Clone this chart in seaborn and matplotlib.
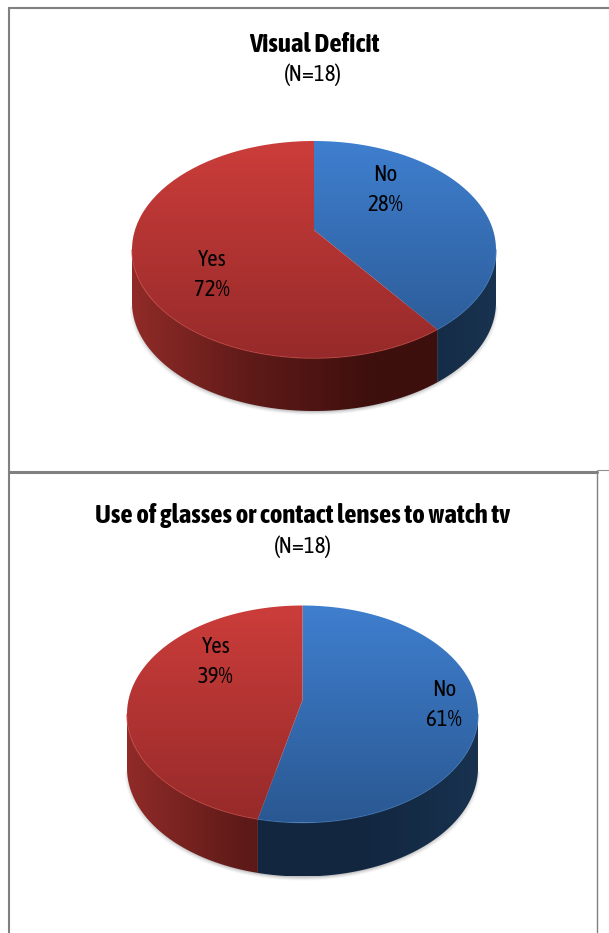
import numpy as np
import matplotlib
matplotlib.use("Agg")
import matplotlib.pyplot as plt
import seaborn as sns
from matplotlib.patches import Polygon
from matplotlib.path import Path
from matplotlib.transforms import Affine2D, Transform

# printed labels of the two charts
titles = ["Visual Deficit", "Use of glasses or contact lenses to watch tv"]
subtitle = "(N=18)"
categories = ["No", "Yes"]
printed_pct_1 = [28, 72]
printed_pct_2 = [61, 39]

# slice sizes as measured on the picture (they do not agree with the printed labels)
drawn_share_1 = [40, 60]
drawn_share_2 = [53.6, 46.4]

sns.set_theme(style="white")
plt.rcParams["font.family"] = ["Asap Condensed", "Lato", "DejaVu Sans"]

top_cmaps = {
    "No": sns.blend_palette(["#3F7FCF", "#2A5892"], as_cmap=True),
    "Yes": sns.blend_palette(["#CB3D3A", "#962A2A"], as_cmap=True),
}
wall_cmaps = {
    "No": sns.blend_palette(["#1B3863", "#12263F", "#12263F", "#18324F"], as_cmap=True),
    "Yes": sns.blend_palette(["#902B28", "#5E1A18", "#3D0F0D", "#3D0F0D"], as_cmap=True),
}
rim_colors = {"No": "#4A86C8", "Yes": "#D9534E"}


class Perspective(Transform):
    # tilts the flat unit pie: the circle becomes an ellipse, the centre moves up
    input_dims = 2
    output_dims = 2
    is_affine = False
    has_inverse = False

    def __init__(self, cx, cy, rx, ry, apex):
        super().__init__()
        self.cx, self.cy, self.rx, self.ry, self.apex = cx, cy, rx, ry, apex

    def transform_non_affine(self, xy):
        xy = np.asarray(xy, dtype=float)
        k = self.apex / self.ry
        d = 1 + k * xy[:, 1]
        px = self.cx + self.rx * np.sqrt(1 - k ** 2) * xy[:, 0] / d
        py = self.cy - (self.ry * xy[:, 1] + self.apex) / d
        return np.column_stack([px, py])

    def transform_path_non_affine(self, path):
        big = path.transformed(Affine2D().scale(400))
        poly = big.to_polygons(closed_only=True)[0] / 400
        return Path(self.transform_non_affine(poly))


fig = plt.figure(figsize=(6.09, 9.33), dpi=100)
ax = fig.add_axes([0, 0, 1, 1])


def draw_pie(shares, cx, cy, rx, ry, apex, depth):
    proj = Perspective(cx, cy, rx, ry, apex)

    # soft shadow under the disc
    t = np.radians(np.linspace(0, 180, 120))
    for grow, alpha in zip([4, 3, 2, 1], [0.04, 0.05, 0.07, 0.09]):
        ax.fill(cx + (rx + grow - 2) * np.cos(t), cy + depth + grow + ry * np.sin(t),
                color="black", alpha=alpha, lw=0, zorder=1)

    # side wall, only the part facing the viewer
    edges = np.concatenate([[0], np.cumsum(shares)]) / np.sum(shares) * 360
    for i, cat in enumerate(categories):
        ang = np.radians(np.arange(edges[i], edges[i + 1] + 0.25, 0.5))
        rim = proj.transform_non_affine(np.column_stack([np.sin(ang), np.cos(ang)]))
        rim = rim[rim[:, 1] >= cy]
        outline = np.vstack([rim, rim[::-1] + [0, depth]])
        clip = Polygon(outline, closed=True, transform=ax.transData, facecolor="none", edgecolor="none")
        ax.add_patch(clip)
        grad = np.linspace(0, 1, 256).reshape(1, -1)
        im = ax.imshow(grad, extent=(cx - rx, cx + rx, cy + ry + depth, cy - 5), aspect="auto",
                       cmap=wall_cmaps[cat], zorder=2, interpolation="bilinear")
        im.set_clip_path(clip)
        ax.plot(rim[:, 0], rim[:, 1], color=rim_colors[cat], lw=1, alpha=0.8, zorder=3)

    # top face
    wedges, _ = ax.pie(shares, startangle=90, counterclock=False, radius=1, center=(0, 0))
    for cat, w in zip(categories, wedges):
        w.set_transform(proj + ax.transData)
        w.set_facecolor("none")
        w.set_edgecolor("none")
        w.set_zorder(4)
        grad = np.linspace(0, 1, 256).reshape(-1, 1)
        im = ax.imshow(grad, extent=(cx - rx, cx + rx, cy + ry, cy - ry), aspect="auto",
                       cmap=top_cmaps[cat], zorder=4, interpolation="bilinear")
        im.set_clip_path(w)


def slice_label(x, y, name, pct):
    ax.text(x, y + 2, name, ha="center", va="center", fontsize=16.5, color="black", zorder=6)
    ax.text(x, y + 32, f"{pct}%", ha="center", va="center", fontsize=16.5, color="black", zorder=6)


draw_pie(drawn_share_1, 314, 249.5, 182, 108.5, 19.5, 53)
draw_pie(drawn_share_2, 302.5, 714, 175.5, 108.5, 14, 54)

ax.text(314, 44, titles[0], ha="center", va="center", fontsize=19.4, fontweight="bold", color="black")
ax.text(313, 75, subtitle, ha="center", va="center", fontsize=16.5, color="black")
ax.text(303, 515, titles[1], ha="center", va="center", fontsize=19.4, fontweight="bold", color="black")
ax.text(303, 547, subtitle, ha="center", va="center", fontsize=16.5, color="black")

slice_label(385, 173, categories[0], printed_pct_1[0])
slice_label(212, 258, categories[1], printed_pct_1[1])
slice_label(444, 688, categories[0], printed_pct_2[0])
slice_label(216, 645, categories[1], printed_pct_2[1])

# table borders around the charts
ax.plot([9, 9], [8, 933], color="#808080", lw=1.5, zorder=7)
ax.plot([9, 609], [8, 8], color="#808080", lw=1.5, zorder=7)
ax.plot([9, 597], [472, 472], color="#808080", lw=2.2, zorder=7)
ax.plot([597, 609], [470, 470], color="#909090", lw=0.8, zorder=7)
ax.plot([597, 597], [472, 933], color="#808080", lw=1, zorder=7)

ax.set_aspect("auto")
ax.set_xlim(0, 609)
ax.set_ylim(933, 0)
ax.axis("off")

fig.savefig("out.png", dpi=100)
